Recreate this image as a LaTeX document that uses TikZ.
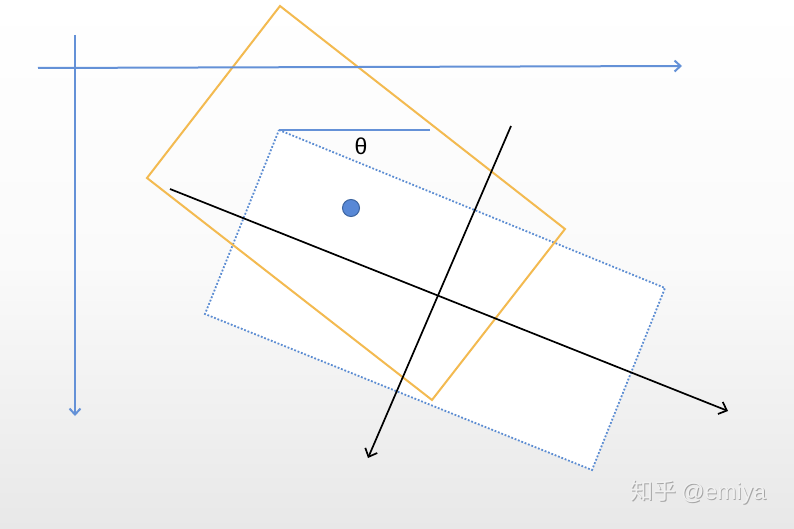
\documentclass[tikz,border=0pt]{standalone}
\usepackage{fontspec}
\setmainfont{Liberation Sans}
\newfontfamily\cjk{Noto Sans CJK SC}
\usetikzlibrary{arrows.meta}
\definecolor{axblue}{RGB}{100,145,215}
\definecolor{dotblue}{RGB}{91,140,210}
\definecolor{rectorange}{RGB}{243,186,80}
\definecolor{dotfill}{RGB}{88,136,214}
\definecolor{dotedge}{RGB}{60,100,160}
\tikzset{
  axis/.style={draw=axblue, line width=2pt, -{Straight Barb[length=6pt,width=11pt,line width=2pt]}},
  orangebox/.style={draw=rectorange, line width=2pt, line join=miter},
  dottedbox/.style={draw=dotblue, line width=1.8pt, dash pattern=on 1.8pt off 1.8pt, fill=white},
  blackarrow/.style={draw=black, line width=1.7pt, -{Straight Barb[length=7pt,width=13pt,line width=1.7pt]}},
  wm/.style={font=\fontsize{23}{23}\selectfont, inner sep=0pt}
}
\newcommand{\wmtext}{{\cjk 知乎}\hspace{5pt}@emiya}
\begin{document}
\begin{tikzpicture}[x=1pt,y=-1pt]
\shade[top color=white, bottom color=black!9, middle color=black!2] (0,0) rectangle (794,529);
\useasboundingbox (0,0) rectangle (794,529);
% dotted rectangle
\coordinate (d1) at (279,130);
\coordinate (d2) at (665,288);
\coordinate (d3) at (592,470);
\coordinate (d4) at (205,314);
\path[dottedbox] (d1) -- (d2) -- (d3) -- (d4) -- cycle;
% orange rectangle
\coordinate (o1) at (280,6);
\coordinate (o2) at (565,229);
\coordinate (o3) at (432,400);
\coordinate (o4) at (147,178);
\path[orangebox] (o1) -- (o2) -- (o3) -- (o4) -- cycle;
% axes
\coordinate (hx0) at (38,68);
\coordinate (hx1) at (682,66);
\coordinate (vy0) at (75,35);
\coordinate (vy1) at (75,416);
\path[axis] (hx0) -- (hx1);
\path[axis] (vy0) -- (vy1);
% theta reference line
\coordinate (t1) at (430,130);
\draw[draw=axblue, line width=2.2pt] (d1) -- (t1);
\node[font=\fontsize{23}{23}\selectfont, inner sep=0pt] (theta) at (361,146) {θ};
% blue dot
\node[circle, fill=dotfill, draw=dotedge, line width=1pt, minimum size=17pt, inner sep=0pt] (dot) at (351,208) {};
% black arrows
\coordinate (a1) at (170,189);
\coordinate (a2) at (728,411);
\coordinate (b1) at (511,126);
\coordinate (b2) at (368,458);
\path[blackarrow] (a1) -- (a2);
\path[blackarrow] (b1) -- (b2);
% watermark
\node[wm, text=black!35, anchor=west] (wms) at (630.9,492.9) {\wmtext};
\node[wm, text=black!6, anchor=west] (wmt) at (630,492) {\wmtext};
\end{tikzpicture}
\end{document}
